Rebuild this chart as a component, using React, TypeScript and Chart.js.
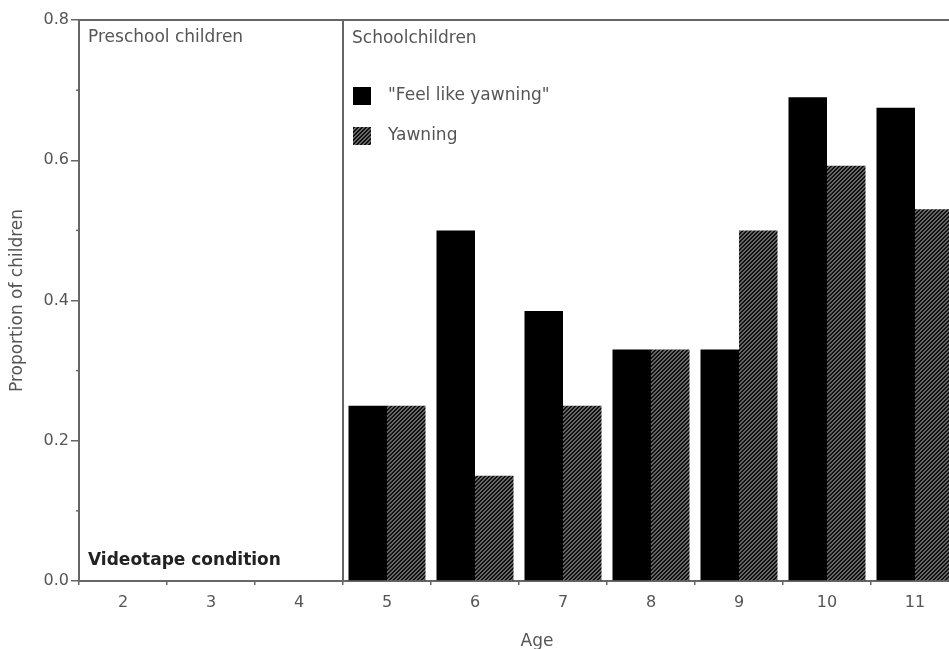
import React, { useEffect, useRef } from "react";
import { Chart, registerables } from "chart.js";

Chart.register(...registerables);

const ages = ["2", "3", "4", "5", "6", "7", "8", "9", "10", "11"];
const feelLikeYawning = [0, 0, 0, 0.25, 0.5, 0.385, 0.33, 0.33, 0.69, 0.675];
const yawning = [0, 0, 0, 0.25, 0.15, 0.25, 0.33, 0.5, 0.592, 0.53];
const seriesNames = ['"Feel like yawning"', "Yawning"];
const minorTicks = [0.1, 0.3, 0.5, 0.7];
const groupLabels = ["Preschool children", "Schoolchildren"];
const conditionLabel = "Videotape condition";

const FONT = "'DejaVu Sans', Verdana, sans-serif";
const TEXT = "#555";
const AXIS = "#666";

function makePattern(): CanvasPattern | string {
  const c = document.createElement("canvas");
  c.width = 4;
  c.height = 4;
  const g = c.getContext("2d");
  if (!g) return "#444";
  g.fillStyle = "#666";
  g.fillRect(0, 0, 4, 4);
  g.fillStyle = "#111";
  for (let x = 0; x < 4; x++) {
    for (let y = 0; y < 4; y++) {
      if ((x + y) % 4 < 2) g.fillRect(x, y, 1, 1);
    }
  }
  const p = g.createPattern(c, "repeat");
  return p || "#444";
}

export default function App() {
  const ref = useRef<HTMLCanvasElement | null>(null);

  useEffect(() => {
    const canvas = ref.current;
    if (!canvas) return;
    const pattern = makePattern();

    const overlay = {
      id: "overlay",
      afterDraw(chart: any) {
        const ctx = chart.ctx;
        const area = chart.chartArea;
        const xs = chart.scales.x;
        const ys = chart.scales.y;
        ctx.save();
        ctx.strokeStyle = AXIS;
        ctx.lineWidth = 2;
        // top frame
        ctx.beginPath();
        ctx.moveTo(area.left, area.top);
        ctx.lineTo(area.right, area.top);
        ctx.stroke();
        // divider between preschool and school
        const xd = (xs.getPixelForValue(2) + xs.getPixelForValue(3)) / 2;
        ctx.beginPath();
        ctx.moveTo(xd, area.top);
        ctx.lineTo(xd, area.bottom);
        ctx.stroke();
        // minor ticks
        ctx.lineWidth = 1.5;
        minorTicks.forEach((v) => {
          const y = ys.getPixelForValue(v);
          ctx.beginPath();
          ctx.moveTo(area.left - 3, y);
          ctx.lineTo(area.left, y);
          ctx.stroke();
        });
        // texts
        ctx.fillStyle = TEXT;
        ctx.font = `17px ${FONT}`;
        ctx.textBaseline = "middle";
        ctx.textAlign = "left";
        ctx.fillText(groupLabels[0], area.left + 9, area.top + 18);
        ctx.fillText(groupLabels[1], xd + 9, area.top + 19);
        // legend
        const ds = chart.data.datasets;
        const lx = xd + 10;
        const rows = [area.top + 76, area.top + 116];
        rows.forEach((y, i) => {
          ctx.fillStyle = ds[i].backgroundColor;
          ctx.fillRect(lx, y - 9, 18, 18);
          ctx.fillStyle = TEXT;
          ctx.fillText(seriesNames[i], lx + 35, y);
        });
        // condition
        ctx.fillStyle = "#222";
        ctx.font = `bold 17px ${FONT}`;
        ctx.fillText(conditionLabel, area.left + 9, area.bottom - 20);
        // x title
        ctx.fillStyle = TEXT;
        ctx.font = `17px ${FONT}`;
        ctx.textAlign = "center";
        ctx.fillText("Age", 537, 642);
        ctx.restore();
      },
    };

    const chart = new Chart(canvas, {
      type: "bar",
      data: {
        labels: ages,
        datasets: [
          {
            label: seriesNames[0],
            data: feelLikeYawning,
            backgroundColor: "#000",
            borderWidth: 0,
            categoryPercentage: 0.875,
            barPercentage: 1.0,
          },
          {
            label: seriesNames[1],
            data: yawning,
            backgroundColor: pattern as any,
            borderWidth: 0,
            categoryPercentage: 0.875,
            barPercentage: 1.0,
          },
        ],
      },
      options: {
        responsive: false,
        devicePixelRatio: 1,
        animation: false,
        layout: { padding: { top: 20, left: 0, right: 0, bottom: 0 } },
        plugins: {
          legend: { display: false },
          tooltip: { enabled: false },
        },
        scales: {
          x: {
            type: "category",
            offset: true,
            grid: {
              offset: true,
              drawOnChartArea: false,
              tickLength: 4,
              color: AXIS,
              lineWidth: 1.5,
            },
            border: { color: AXIS, width: 2 },
            ticks: {
              color: TEXT,
              font: { family: FONT, size: 16 },
              padding: 8,
            },
            afterFit: (s: any) => {
              s.height = 68;
            },
          },
          y: {
            min: 0,
            max: 0.8,
            ticks: {
              stepSize: 0.2,
              color: TEXT,
              font: { family: FONT, size: 16 },
              padding: 2,
              callback: (v: any) => Number(v).toFixed(1),
            },
            grid: {
              drawOnChartArea: false,
              tickLength: 8,
              color: AXIS,
              lineWidth: 1.5,
            },
            border: { color: AXIS, width: 2 },
            title: {
              display: true,
              text: "Proportion of children",
              color: TEXT,
              font: { family: FONT, size: 17 },
              padding: { top: 7, bottom: 0 },
            },
            afterFit: (s: any) => {
              s.width = 79;
            },
          },
        },
      },
      plugins: [overlay],
    });
    return () => chart.destroy();
  }, []);

  return (
    <div
      style={{
        position: "fixed",
        left: 0,
        top: 0,
        width: 949,
        height: 649,
        overflow: "hidden",
        background: "#fff",
      }}
    >
      <canvas
        ref={ref}
        width={959}
        height={649}
        style={{ display: "block", width: 959, height: 649 }}
      />
    </div>
  );
}
